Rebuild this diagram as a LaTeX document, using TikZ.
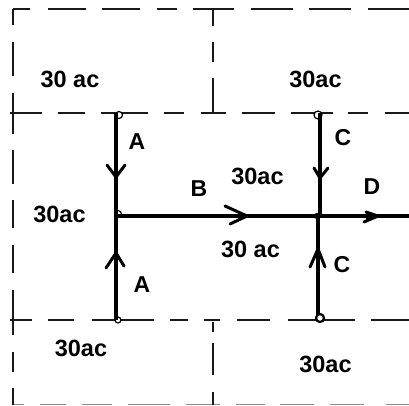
\documentclass[tikz,border=0pt]{standalone}
\usepackage{fontspec}
\setmainfont{Liberation Sans}
\usetikzlibrary{arrows.meta}
\tikzset{
  lbl/.style={inner sep=0pt,font=\fontsize{23.5}{24}\selectfont\bfseries},
  let/.style={inner sep=0pt,font=\fontsize{23}{24}\selectfont\bfseries},
  fence/.style={line width=1.7pt,black!90},
  road/.style={line width=3.2pt,black},
  junction/.style={circle,draw=black,fill=white,line width=1.2pt,minimum size=6pt,inner sep=0pt},
  barb/.style={line width=3pt,black,line cap=round,line join=miter}
}
\begin{document}
\begin{tikzpicture}[x=1pt,y=-1pt]
\useasboundingbox (0,0) rectangle (409,405);
\fill[white] (0,0) rectangle (409,405);
% fence dashes
\foreach \a/\b in {13/30,48/86,102/140,157/177,193/234,251/293,309/351,368/409}
  \draw[fence] (\a,9) -- (\b,9);
\foreach \a/\b in {10/42,58/85,101/148,164/184,201/226,242/275,291/333,348/368,385/409}
  \draw[fence] (\a,113) -- (\b,113);
\foreach \a/\b in {10/32,48/74,92/154,170/188,204/220,237/270,288/355,371/409}
  \draw[fence] (\a,320) -- (\b,320);
\foreach \a/\b in {13/24,40/66,82/112,128/170,186/220,236/265,280/314,330/364,386/409}
  \draw[line width=1.2pt,black!45] (\a,404.4) -- (\b,404.4);
\foreach \a/\b in {9/25,42/76,93/134,150/184,200/228,245/273,290/335,352/372,388/405}
  \draw[fence] (13,\a) -- (13,\b);
\foreach \a/\b in {9/26,42/62,78/113,322/332,343/375,392/405}
  \draw[fence] (213,\a) -- (213,\b);
% road nodes
\node[junction,minimum size=7pt] (a1) at (119,115) {};
\node[junction,minimum size=7pt] (j1) at (118,214) {};
\node[junction,minimum size=6pt] (a2) at (118,320) {};
\node[junction,minimum size=8pt] (c1) at (318,115) {};
\node[junction,minimum size=5pt] (j2) at (317,216) {};
\coordinate (pa1) at (116,113);
\coordinate (pa2) at (116,320);
\coordinate (pj1) at (116,216);
\coordinate (pc1) at (320,113);
\coordinate (pj2) at (320,216);
\coordinate (pj3) at (318,216);
\coordinate (pc2) at (318,316);
\coordinate (e) at (409,216);
% roads
\draw[road] (pa1) -- (pa2);
\draw[road] (pc1) -- (pj2);
\draw[road] (pj3) -- (pc2);
\draw[road] (pj1) -- (e);
\node[junction,minimum size=8pt,line width=2.2pt] (c2) at (320,318) {};
% arrowheads
\draw[barb] (107,165) -- (116,177) -- (125,165);
\draw[barb] (106,268) -- (116,253) -- (124,266);
\draw[barb] (225,206) -- (247,216) -- (230,224);
\draw[barb] (314,168) -- (320,178) -- (328,168);
\draw[barb] (310,267) -- (318,249) -- (325,267);
\fill (318,247) -- (313,258) -- (323,258) -- cycle;
\draw[barb] (366,212) -- (378,216) -- (364,222);
\fill (378,216) -- (366,211) -- (366,221) -- cycle;
% labels
\node[lbl] (t1) at (70,79) {30 ac};
\node[lbl] (t2) at (315.5,79) {30ac};
\node[lbl] (t3) at (257.5,176) {30ac};
\node[lbl] (t4) at (59.5,214) {30ac};
\node[lbl] (t5) at (250.5,249) {30 ac};
\node[lbl] (t6) at (81,348) {30ac};
\node[lbl] (t7) at (325.5,364) {30ac};
\node[let] (la1) at (137,142) {A};
\node[let] (la2) at (142,285) {A};
\node[let] (lb) at (199,189) {B};
\node[let] (lc1) at (343,138) {C};
\node[let] (lc2) at (342,265) {C};
\node[let] (ld) at (372,187) {D};
\end{tikzpicture}
\end{document}
